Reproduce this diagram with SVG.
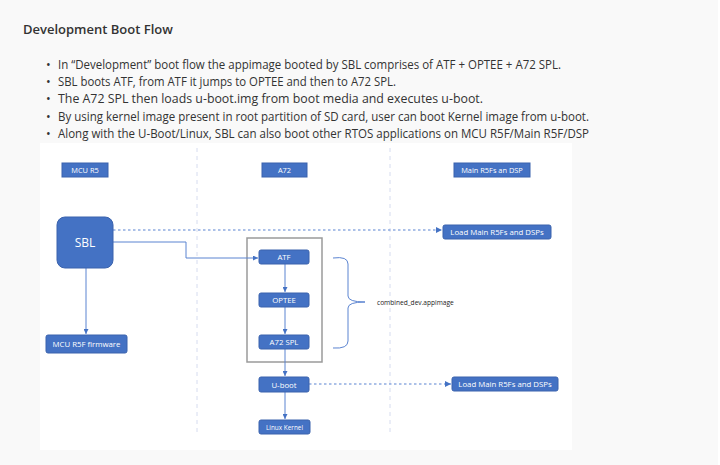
<svg xmlns="http://www.w3.org/2000/svg" width="720" height="465" viewBox="0 0 720 465">
<defs>
<style>
.pg{font-family:"Open Sans","Noto Sans",sans-serif;fill:#333}
.h{font-size:13px;font-weight:600}
.b{font-size:12.4px}
.box{fill:#4472c4;stroke:#3a62ad;stroke-width:1}
.lbl{font-family:"Open Sans","Noto Sans",sans-serif;fill:#fff;font-size:7.8px;text-anchor:middle}
.lane{stroke:#d6dcef;stroke-width:1;stroke-dasharray:4 4;fill:none}
.con{stroke:#5b84d1;stroke-width:1;fill:none}
.dash{stroke:#5b84d1;stroke-width:1.2;fill:none;stroke-dasharray:2.5 2.5}
</style>
<marker id="ah" viewBox="0 0 10 10" refX="10" refY="5" markerWidth="5" markerHeight="5" orient="auto">
<path d="M0,0 L10,5 L0,10 z" fill="#4472c4"/>
</marker>
</defs>
<rect x="0" y="0" width="720" height="465" fill="#f9f9f9"/>
<rect x="718" y="0" width="2" height="465" fill="#ffffff"/>
<rect x="40" y="143" width="532" height="307" fill="#ffffff"/>
<g id="text">
<text class="pg h" x="23" y="34">Development Boot Flow</text>
<g class="pg b">
<text x="46" y="69">•</text><text x="58" y="69" textLength="503" lengthAdjust="spacingAndGlyphs">In “Development” boot flow the appimage booted by SBL comprises of ATF + OPTEE + A72 SPL.</text>
<text x="46" y="86">•</text><text x="58" y="86" textLength="338" lengthAdjust="spacingAndGlyphs">SBL boots ATF, from ATF it jumps to OPTEE and then to A72 SPL.</text>
<text x="46" y="103">•</text><text x="58" y="103" textLength="425" lengthAdjust="spacingAndGlyphs">The A72 SPL then loads u-boot.img from boot media and executes u-boot.</text>
<text x="46" y="121">•</text><text x="58" y="121" textLength="531" lengthAdjust="spacingAndGlyphs">By using kernel image present in root partition of SD card, user can boot Kernel image from u-boot.</text>
<text x="46" y="138">•</text><text x="58" y="138" textLength="531" lengthAdjust="spacingAndGlyphs">Along with the U-Boot/Linux, SBL can also boot other RTOS applications on MCU R5F/Main R5F/DSP</text>
</g>
</g>
<g id="lanes">
<line class="lane" x1="197" y1="148" x2="197" y2="436"/>
<line class="lane" x1="390" y1="148" x2="390" y2="436"/>
</g>
<g id="hdr-mcu"><rect class="box" x="62" y="163" width="46" height="14"/><text class="lbl" x="85" y="172.8" style="font-size:7.4px">MCU R5</text></g>
<g id="hdr-a72"><rect class="box" x="262" y="163" width="45" height="14"/><text class="lbl" x="284.5" y="172.8" style="font-size:7.4px">A72</text></g>
<g id="hdr-main"><rect class="box" x="454" y="163" width="76" height="14"/><text class="lbl" x="492" y="172.8" style="font-size:7.4px">Main R5Fs an DSP</text></g>
<g id="container"><rect x="247" y="238" width="75" height="124" fill="none" stroke="#9a9a9a" stroke-width="1.5"/></g>
<g id="connectors">
<path class="dash" d="M113,230 H442" marker-end="url(#ah)"/>
<path class="con" d="M113,242 H186 V258 H258" marker-end="url(#ah)"/>
<path class="con" d="M86,268 V334" marker-end="url(#ah)"/>
<path class="con" d="M285,264 V292" marker-end="url(#ah)"/>
<path class="con" d="M285,307 V334" marker-end="url(#ah)"/>
<path class="con" d="M285,349 V376" marker-end="url(#ah)"/>
<path class="con" d="M285,392 V419" marker-end="url(#ah)"/>
<path class="dash" d="M309,384 H451" marker-end="url(#ah)"/>
<path class="con" d="M333,258 Q348,256 348,264 V296 Q348,302 365,302 Q348,302 348,308 V341 Q348,349 333,348"/>
</g>
<g id="sbl"><rect class="box" x="57" y="217" width="56" height="51" rx="8"/><text class="lbl" x="85" y="247" style="font-size:12px">SBL</text></g>
<g id="load1"><rect class="box" x="443" y="225" width="108" height="14" rx="2"/><text class="lbl" x="497" y="235">Load Main R5Fs and DSPs</text></g>
<g id="atf"><rect class="box" x="259" y="250" width="50" height="14" rx="2"/><text class="lbl" x="284" y="260">ATF</text></g>
<g id="optee"><rect class="box" x="259" y="293" width="50" height="14" rx="2"/><text class="lbl" x="284" y="303">OPTEE</text></g>
<g id="a72spl"><rect class="box" x="259" y="335" width="50" height="14" rx="2"/><text class="lbl" x="284" y="345">A72 SPL</text></g>
<g id="uboot"><rect class="box" x="259" y="377" width="50" height="15" rx="2"/><text class="lbl" x="284" y="387.5">U-boot</text></g>
<g id="linux"><rect class="box" x="259" y="420" width="51" height="14" rx="2"/><text class="lbl" x="284.5" y="429.5" style="font-size:6.4px">Linux Kernel</text></g>
<g id="mcufw"><rect class="box" x="46" y="335" width="81" height="18" rx="2"/><text class="lbl" x="86.5" y="346.8">MCU R5F firmware</text></g>
<g id="load2"><rect class="box" x="452" y="377" width="106" height="14" rx="2"/><text class="lbl" x="505" y="387">Load Main R5Fs and DSPs</text></g>
<g id="brace-label"><text x="377" y="304.5" font-family="Open Sans, Noto Sans, sans-serif" font-size="6.6px" fill="#222">combined_dev.appimage</text></g>
</svg>
